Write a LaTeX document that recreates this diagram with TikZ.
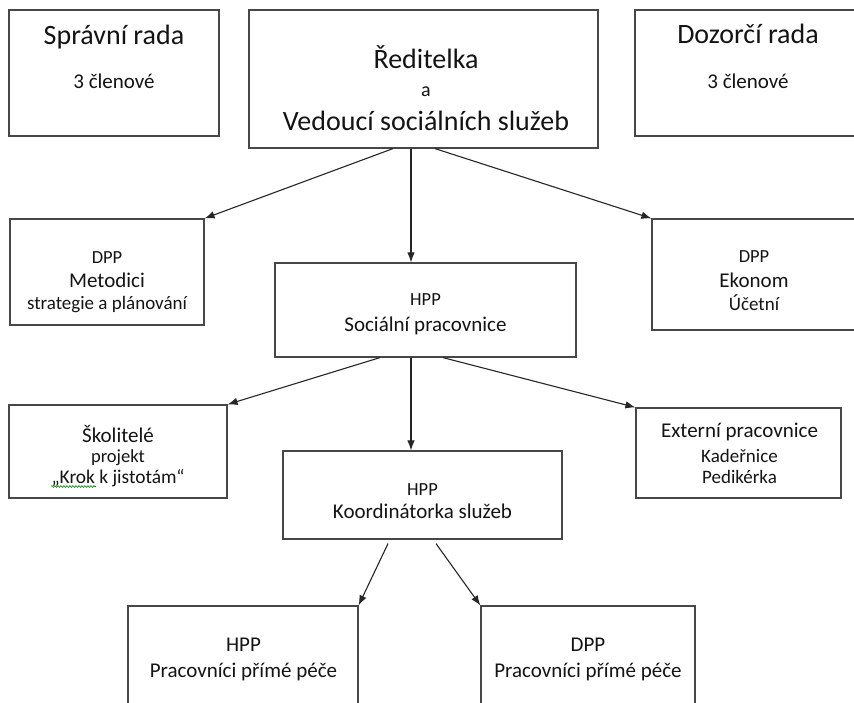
\documentclass[tikz,border=0pt]{standalone}
\usepackage{fontspec}
\setmainfont{Carlito}
\usetikzlibrary{arrows.meta,decorations.pathmorphing}
\begin{document}
\begin{tikzpicture}[x=1pt,y=-1pt,
  box/.style={draw=black!72,line width=1.2pt,inner sep=0pt,fill=white},
  txt/.style={inner sep=0pt,anchor=base,text=black!92},
  big/.style={txt,font=\fontsize{28}{30}\selectfont},
  mid/.style={txt,font=\fontsize{21}{23}\selectfont},
  sml/.style={txt,font=\fontsize{18.5}{20}\selectfont},
  arr/.style={draw=black!85,line width=1.1pt,-{Latex[length=10pt,width=7.5pt]}}]
\useasboundingbox (0,0) rectangle (854,702);
\clip (0,0) rectangle (854,702);
\fill[white] (0,0) rectangle (854,702);

% boxes
\node[box,minimum width=210,minimum height=126] (spr) at (114,73) {};
\node[box,minimum width=349,minimum height=138] (red) at (423.5,79) {};
\node[box,minimum width=226,minimum height=126] (doz) at (748,73) {};
\node[box,minimum width=194,minimum height=106] (met) at (107,272) {};
\node[box,minimum width=301,minimum height=94] (soc) at (425.5,310) {};
\node[box,minimum width=204,minimum height=111] (eko) at (754,274.5) {};
\node[box,minimum width=218,minimum height=93] (sko) at (118,451.5) {};
\node[box,minimum width=205,minimum height=90] (ext) at (738.5,453) {};
\node[box,minimum width=279,minimum height=88] (koo) at (422.5,495) {};
\node[box,minimum width=230,minimum height=114] (hpp) at (243,663) {};
\node[box,minimum width=214,minimum height=114] (dpp) at (588,663) {};

% texts
\node[big] (sprA) at (114,44) {Správní rada};
\node[mid] (sprB) at (114,88) {3 členové};
\node[big] (dozA) at (748,43) {Dozorčí rada};
\node[mid] (dozB) at (748,88) {3 členové};
\node[big] (redA) at (426,68) {Ředitelka};
\node[txt,font=\fontsize{20}{22}\selectfont] (redB) at (426,96) {a};
\node[big] (redC) at (426,130) {Vedoucí sociálních služeb};

\node[sml] (metA) at (107,263) {DPP};
\node[mid] (metB) at (107,287) {Metodici};
\node[txt,font=\fontsize{19}{21}\selectfont] (metC) at (107,309) {strategie a plánování};

\node[sml] (ekoA) at (754,262) {DPP};
\node[mid] (ekoB) at (754,287) {Ekonom};
\node[txt,font=\fontsize{19}{21}\selectfont] (ekoC) at (754,310) {Účetní};

\node[sml] (socA) at (425.5,305) {HPP};
\node[mid] (socB) at (425.5,331) {Sociální pracovnice};

\node[mid] (skoA) at (118,442) {Školitelé};
\node[sml] (skoB) at (118,462) {projekt};
\node[txt,font=\fontsize{19.4}{21}\selectfont] (skoC) at (118,483) {„Krok k jistotám“};
\draw[green!55!black,line width=0.6pt,decorate,decoration={snake,amplitude=0.9pt,segment length=3pt}] (51,486.5) -- (96,486.5);

\node[mid] (extA) at (739.5,437) {Externí pracovnice};
\node[txt,font=\fontsize{19}{21}\selectfont] (extB) at (739.5,462) {Kadeřnice};
\node[txt,font=\fontsize{19}{21}\selectfont] (extC) at (739.5,483) {Pedikérka};

\node[sml] (kooA) at (422.5,495) {HPP};
\node[mid] (kooB) at (422.5,518) {Koordinátorka služeb};

\node[mid] (hppA) at (243.5,651) {HPP};
\node[mid] (hppB) at (243.5,677) {Pracovníci přímé péče};
\node[mid] (dppA) at (588,651) {DPP};
\node[mid] (dppB) at (588,677) {Pracovníci přímé péče};

% connectors
\draw[arr] ([xshift=-30.5pt]red.south) -- (met.north east);
\draw[arr] ([xshift=-12.5pt]red.south) -- ([xshift=-12.5pt]red.south |- soc.north);
\draw[arr] ([xshift=11.5pt]red.south) -- (eko.north west);

\draw[arr] ([xshift=-45.5pt]soc.south) -- (sko.north east);
\draw[arr] ([xshift=-14.5pt]soc.south) -- ([xshift=-14.5pt]soc.south |- koo.north);
\draw[arr] ([xshift=17.5pt]soc.south) -- (ext.north west);

\draw[arr] ([xshift=-34.5pt,yshift=-4pt]koo.south) -- (hpp.north east);
\draw[arr] ([xshift=13.5pt,yshift=-4pt]koo.south) -- (dpp.north west);
\end{tikzpicture}
\end{document}
